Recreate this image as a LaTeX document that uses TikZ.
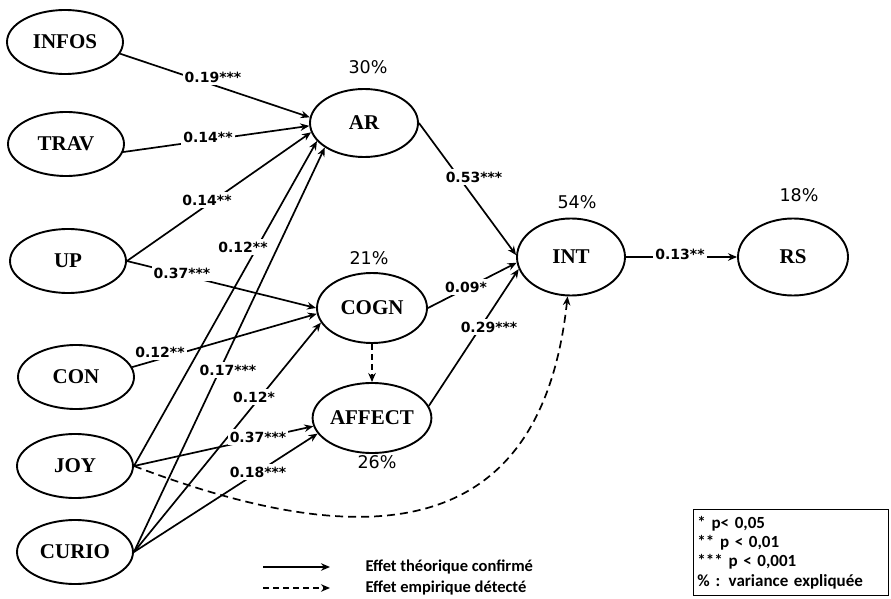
\documentclass[tikz,border=0pt]{standalone}
\usepackage{fontspec}
\setmainfont{Liberation Serif}
\newfontfamily\lblfont{DejaVu Sans}
\newfontfamily\legfont{Carlito}
\usetikzlibrary{arrows.meta,shapes.geometric}
\begin{document}
\begin{tikzpicture}[x=1pt,y=-1pt,
  lat/.style={ellipse, draw, line width=1.9pt, inner sep=0pt,
    minimum width=116pt, minimum height=64pt,
    font=\fontsize{21}{21}\selectfont\bfseries},
  conn/.style={line width=1.7pt, -{Stealth[length=9pt,width=7.5pt]}},
  coef/.style={fill=white, inner xsep=2pt, inner ysep=3pt,
    font=\lblfont\bfseries\fontsize{14}{14}\selectfont},
  pct/.style={font=\lblfont\fontsize{17.5}{17.5}\selectfont},
  legtext/.style={anchor=west, font=\legfont\bfseries\fontsize{16.5}{16.5}\selectfont}]
\useasboundingbox (0,0) rectangle (891,599);

% exogenous constructs
\node[lat] (infos) at (65,42) {INFOS};
\node[lat] (trav) at (66,144) {TRAV};
\node[lat] (up) at (68,261) {UP};
\node[lat] (con) at (76,377) {CON};
\node[lat] (joy) at (75,466) {JOY};
\node[lat] (curio) at (75,552) {CURIO};
% endogenous constructs
\node[lat, minimum width=108pt, minimum height=68pt] (ar) at (364,123) {AR};
\node[lat, minimum width=110pt, minimum height=70pt] (cogn) at (372,308) {COGN};
\node[lat, minimum width=110pt, minimum height=70pt] (affect) at (372,418) {AFFECT};
\node[lat, minimum width=108pt, minimum height=77pt] (int) at (571,257) {INT};
\node[lat, minimum width=110pt, minimum height=77pt] (rs) at (793,257) {RS};

% variance explained
\node[pct] (p30) at (368,67) {30\%};
\node[pct] (p21) at (369,258) {21\%};
\node[pct] (p26) at (377,462) {26\%};
\node[pct] (p54) at (577,202) {54\%};
\node[pct] (p18) at (799,195) {18\%};

% paths
\draw[conn] (infos.-12) -- (ar.174);
\draw[conn] (trav.-8) -- (ar.183);
\draw[conn] (up.east) -- (ar.190);
\draw[conn] (joy.east) -- (ar.201);
\draw[conn] (curio.east) -- (ar.212);
\draw[conn] (up.east) -- (cogn.180);
\draw[conn] (con.10) -- (cogn.186);
\draw[conn] (curio.east) -- (cogn.196);
\draw[conn] (joy.east) -- (affect.188);
\draw[conn] (curio.east) -- (affect.196);
\draw[conn] (ar.east) -- (int.178);
\draw[conn] (cogn.east) -- (int.186);
\draw[conn] (affect.12) -- (int.193);
\draw[conn] (int.east) -- (rs.west);
\draw[conn, dash pattern=on 6pt off 4pt] (cogn.south) -- (affect.north);
\draw[conn, dash pattern=on 8pt off 5pt] (joy.east) .. controls (350,548) and (540,555) .. (int.265);

% coefficients
\node[coef] (c1) at (213,77) {0.19***};
\node[coef] (c2) at (208,137) {0.14**};
\node[coef] (c3) at (207,200) {0.14**};
\node[coef] (c4) at (243,247) {0.12**};
\node[coef] (c5) at (182,273) {0.37***};
\node[coef] (c6) at (160,352) {0.12**};
\node[coef] (c7) at (228,370) {0.17***};
\node[coef] (c8) at (254,397) {0.12*};
\node[coef] (c9) at (258,437) {0.37***};
\node[coef] (c10) at (258,472) {0.18***};
\node[coef] (c11) at (474,177) {0.53***};
\node[coef] (c12) at (466,287) {0.09*};
\node[coef] (c13) at (489,327) {0.29***};
\node[coef] (c14) at (680,254) {0.13**};

% legend
\coordinate (ls1) at (263,567);
\coordinate (le1) at (330,567);
\coordinate (ls2) at (263,588);
\coordinate (le2) at (330,588);
\draw[conn] (ls1) -- (le1);
\draw[conn, dash pattern=on 6pt off 4pt] (ls2) -- (le2);
\node[legtext] (t1) at (362,567) {Effet théorique confirmé};
\node[legtext] (t2) at (362,588) {Effet empirique détecté};

\node[draw, line width=0.9pt, anchor=north west, align=left,
  minimum width=195pt, minimum height=86pt, text width=187pt,
  inner xsep=4pt, inner ysep=5pt,
  font=\legfont\bfseries\fontsize{17}{19.3}\selectfont] (key) at (693,509)
  {{*} p< 0,05\\{}{**} p < 0,01\\{}{***} p < 0,001\\{}\% : variance expliquée};
\end{tikzpicture}
\end{document}
